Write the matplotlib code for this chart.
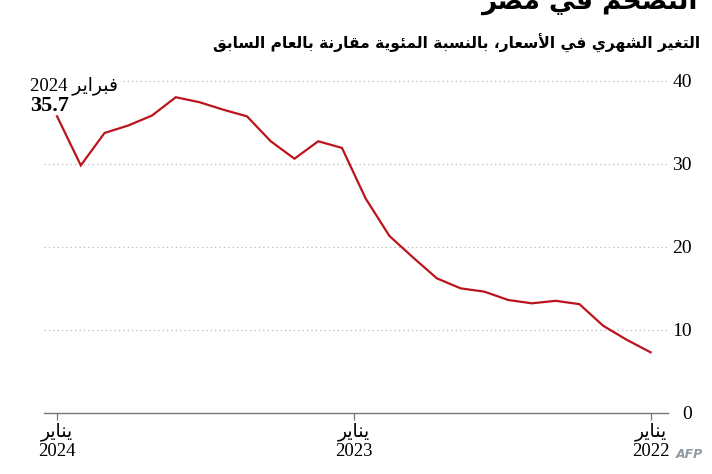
import matplotlib
matplotlib.use('Agg')
import matplotlib.pyplot as plt

# Egypt annual urban inflation, Jan 2022 .. Feb 2024 (chronological)
months = ["2022-01", "2022-02", "2022-03", "2022-04", "2022-05", "2022-06",
          "2022-07", "2022-08", "2022-09", "2022-10", "2022-11", "2022-12",
          "2023-01", "2023-02", "2023-03", "2023-04", "2023-05", "2023-06",
          "2023-07", "2023-08", "2023-09", "2023-10", "2023-11", "2023-12",
          "2024-01", "2024-02"]
inflation = [7.3, 8.8, 10.5, 13.1, 13.5, 13.2, 13.6, 14.6, 15.0, 16.2, 18.7, 21.3,
             25.8, 31.9, 32.7, 30.6, 32.7, 35.7, 36.5, 37.4, 38.0, 35.8, 34.6, 33.7,
             29.8, 35.7]
year_labels = ["2022", "2023", "2024"]
y_ticks = [0, 10, 20, 30, 40]

TITLE = "التضخم في مصر"
SUBTITLE = "التغير الشهري في الأسعار، بالنسبة المئوية مقارنة بالعام السابق"
JAN = "يناير"
FEB = "فبراير"

# --- minimal arabic shaping (matplotlib has no bidi / joining support)
# (isolated, final, initial, medial)
FORMS = {
    'ء': (0xFE80, None, None, None),
    'آ': (0xFE81, 0xFE82, None, None),
    'أ': (0xFE83, 0xFE84, None, None),
    'ؤ': (0xFE85, 0xFE86, None, None),
    'إ': (0xFE87, 0xFE88, None, None),
    'ئ': (0xFE89, 0xFE8A, 0xFE8B, 0xFE8C),
    'ا': (0xFE8D, 0xFE8E, None, None),
    'ب': (0xFE8F, 0xFE90, 0xFE91, 0xFE92),
    'ة': (0xFE93, 0xFE94, None, None),
    'ت': (0xFE95, 0xFE96, 0xFE97, 0xFE98),
    'ث': (0xFE99, 0xFE9A, 0xFE9B, 0xFE9C),
    'ج': (0xFE9D, 0xFE9E, 0xFE9F, 0xFEA0),
    'ح': (0xFEA1, 0xFEA2, 0xFEA3, 0xFEA4),
    'خ': (0xFEA5, 0xFEA6, 0xFEA7, 0xFEA8),
    'د': (0xFEA9, 0xFEAA, None, None),
    'ذ': (0xFEAB, 0xFEAC, None, None),
    'ر': (0xFEAD, 0xFEAE, None, None),
    'ز': (0xFEAF, 0xFEB0, None, None),
    'س': (0xFEB1, 0xFEB2, 0xFEB3, 0xFEB4),
    'ش': (0xFEB5, 0xFEB6, 0xFEB7, 0xFEB8),
    'ص': (0xFEB9, 0xFEBA, 0xFEBB, 0xFEBC),
    'ض': (0xFEBD, 0xFEBE, 0xFEBF, 0xFEC0),
    'ط': (0xFEC1, 0xFEC2, 0xFEC3, 0xFEC4),
    'ظ': (0xFEC5, 0xFEC6, 0xFEC7, 0xFEC8),
    'ع': (0xFEC9, 0xFECA, 0xFECB, 0xFECC),
    'غ': (0xFECD, 0xFECE, 0xFECF, 0xFED0),
    'ف': (0xFED1, 0xFED2, 0xFED3, 0xFED4),
    'ق': (0xFED5, 0xFED6, 0xFED7, 0xFED8),
    'ك': (0xFED9, 0xFEDA, 0xFEDB, 0xFEDC),
    'ل': (0xFEDD, 0xFEDE, 0xFEDF, 0xFEE0),
    'م': (0xFEE1, 0xFEE2, 0xFEE3, 0xFEE4),
    'ن': (0xFEE5, 0xFEE6, 0xFEE7, 0xFEE8),
    'ه': (0xFEE9, 0xFEEA, 0xFEEB, 0xFEEC),
    'و': (0xFEED, 0xFEEE, None, None),
    'ى': (0xFEEF, 0xFEF0, None, None),
    'ي': (0xFEF1, 0xFEF2, 0xFEF3, 0xFEF4),
}
LAM_ALEF = {'آ': (0xFEF5, 0xFEF6), 'أ': (0xFEF7, 0xFEF8),
            'إ': (0xFEF9, 0xFEFA), 'ا': (0xFEFB, 0xFEFC)}


def ar(s):
    units = []
    i = 0
    while i < len(s):
        if s[i] == 'ل' and i + 1 < len(s) and s[i + 1] in LAM_ALEF:
            units.append(('LA', s[i + 1]))
            i += 2
        else:
            units.append(('C', s[i]))
            i += 1

    def jn(u):  # joins to the following letter
        if u is None: return False
        if u[0] == 'LA': return False
        return u[1] in FORMS and FORMS[u[1]][2] is not None

    def jp(u):  # joins to the preceding letter
        if u is None: return False
        if u[0] == 'LA': return True
        return u[1] in FORMS and FORMS[u[1]][1] is not None

    out = []
    for k, u in enumerate(units):
        p = units[k - 1] if k > 0 else None
        n = units[k + 1] if k + 1 < len(units) else None
        cp = jn(p) and jp(u)
        cn = jn(u) and jp(n)
        if u[0] == 'LA':
            iso, fin = LAM_ALEF[u[1]]
            out.append(chr(fin if cp else iso))
        elif u[1] in FORMS:
            iso, fin, ini, med = FORMS[u[1]]
            if cp and cn: code = med
            elif cp: code = fin
            elif cn: code = ini
            else: code = iso
            out.append(chr(code))
        else:
            out.append(u[1])
    return ''.join(out)[::-1]


MIX = ['Liberation Serif', 'DejaVu Sans']
RED = '#bb141c'

fig = plt.figure(figsize=(7.12, 4.74), dpi=100)
ax = fig.add_axes([0.0618, 0.1287, 0.8770, 0.7363])

x = list(range(len(inflation)))
ax.plot(x, inflation, color=RED, linewidth=1.6, solid_joinstyle='miter', zorder=3)

last = len(inflation) - 1
ax.set_xlim(last + 0.55, -0.75)
ax.set_ylim(0, 42)

for s in ['top', 'right', 'left']:
    ax.spines[s].set_visible(False)
ax.spines['bottom'].set_color('#777777')
ax.spines['bottom'].set_linewidth(1.0)

# y ticks on the right
ax.yaxis.tick_right()
ax.set_yticks(y_ticks)
ax.set_yticklabels([str(v) for v in y_ticks], fontfamily='Liberation Serif',
                   fontsize=14, ha='right')
ax.tick_params(axis='y', length=0, pad=17)
for v in y_ticks[1:]:
    ax.axhline(v, color='#b8b8b8', linewidth=0.9, linestyle=(0, (1, 2.5)), zorder=1)

# x ticks: Jan 2022, Jan 2023, Jan 2024
ax.set_xticks([0, last / 2, last])
ax.set_xticklabels([ar(JAN) + "\n" + y for y in year_labels], fontfamily=MIX,
                   fontsize=13.5, linespacing=1.15)
ax.tick_params(axis='x', length=5, width=0.9, color='#777777', pad=2)

# latest value label (left end of the reversed axis)
ax.text(last + 1.14, 39.45, "2024 " + ar(FEB), fontfamily=MIX, fontsize=13.5,
        ha='left', va='center', zorder=4,
        bbox=dict(facecolor='white', edgecolor='none', pad=1.5))
ax.text(last + 1.14, 37.0, "%.1f" % inflation[-1], fontfamily='Liberation Serif',
        fontsize=16, fontweight='bold', ha='left', va='center', zorder=4)

fig.text(0.979, 0.982, ar(TITLE), fontfamily='DejaVu Sans', fontweight='bold',
         fontsize=19, ha='right', va='baseline')
fig.text(0.984, 0.897, ar(SUBTITLE), fontfamily='DejaVu Sans', fontweight='bold',
         fontsize=11.2, ha='right', va='baseline')
fig.text(0.988, 0.028, "AFP", fontfamily='DejaVu Sans', fontstyle='italic',
         fontweight='bold', fontsize=9, color='#8f9aa3', ha='right', va='bottom')

fig.savefig('out.png', dpi=100, facecolor='white')
